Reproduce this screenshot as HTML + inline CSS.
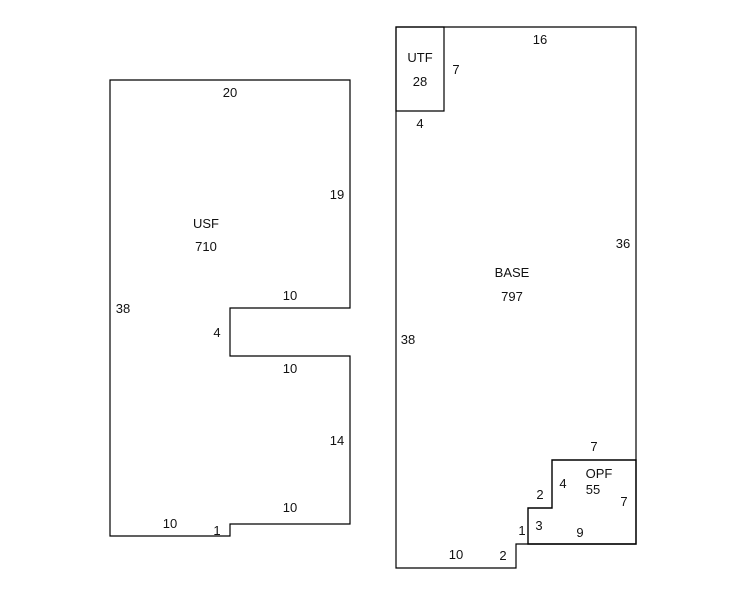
<!DOCTYPE html>
<html><head><style>
html,body{margin:0;padding:0;background:#fff;}
svg{display:block;}
text{font-family:"Liberation Sans",Arial,sans-serif;font-size:13px;fill:#111;text-anchor:middle;}
</style></head><body>
<svg width="746" height="595" viewBox="0 0 746 595" xmlns="http://www.w3.org/2000/svg">
<g fill="none" stroke="#000" stroke-width="1.2">
<polygon points="110,80 350,80 350,308 230,308 230,356 350,356 350,524 230,524 230,536 110,536"/>
<polygon points="396,27 636,27 636,544 528,544 516,544 516,568 396,568"/>
<polygon points="396,27 444,27 444,111 396,111"/>
<polygon points="528,544 636,544 636,460 552,460 552,508 528,508" stroke-width="1.4"/>
</g>
<text x="230" y="97">20</text>
<text x="337" y="199">19</text>
<text x="206" y="228">USF</text>
<text x="206" y="251">710</text>
<text x="290" y="300">10</text>
<text x="123" y="313">38</text>
<text x="217" y="337">4</text>
<text x="290" y="373">10</text>
<text x="337" y="445">14</text>
<text x="290" y="512">10</text>
<text x="170" y="528">10</text>
<text x="217" y="535">1</text>

<text x="540" y="44">16</text>
<text x="420" y="62">UTF</text>
<text x="420" y="86">28</text>
<text x="456" y="74">7</text>
<text x="420" y="128">4</text>
<text x="623" y="248">36</text>
<text x="512" y="277">BASE</text>
<text x="512" y="301">797</text>
<text x="408" y="344">38</text>
<text x="594" y="451">7</text>
<text x="599" y="478">OPF</text>
<text x="593" y="494">55</text>
<text x="563" y="488">4</text>
<text x="540" y="499">2</text>
<text x="624" y="506">7</text>
<text x="539" y="530">3</text>
<text x="522" y="535">1</text>
<text x="580" y="537">9</text>
<text x="456" y="559">10</text>
<text x="503" y="560">2</text>
</svg>
</body></html>
